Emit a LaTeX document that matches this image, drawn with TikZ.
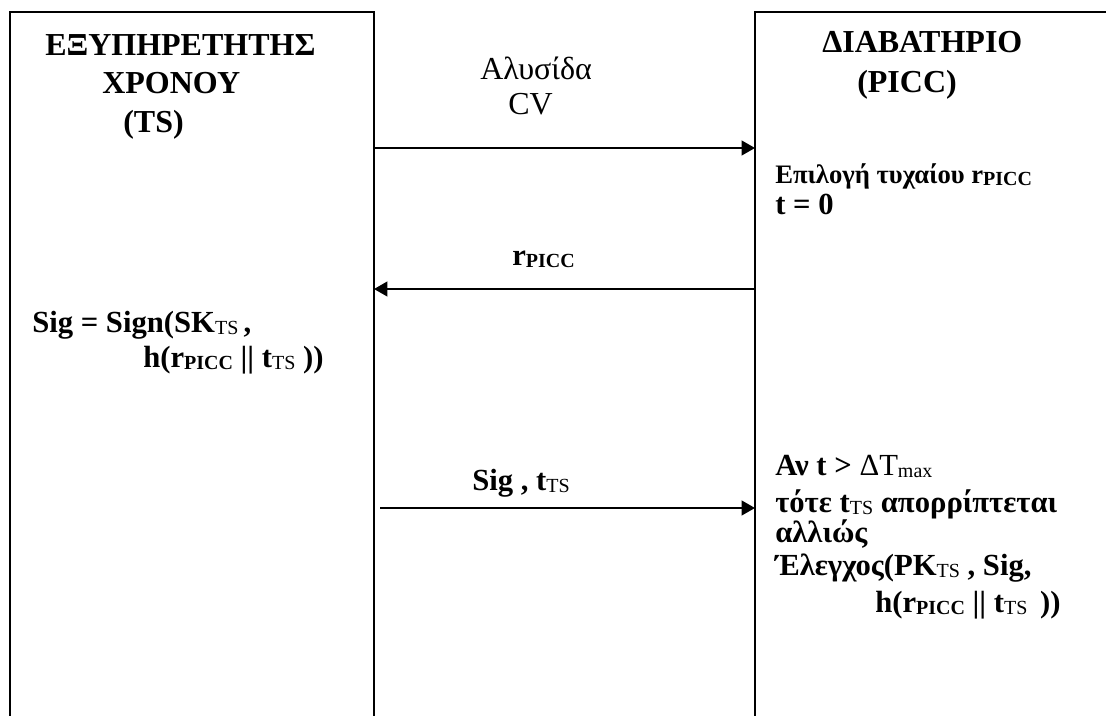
\documentclass[tikz,border=0pt]{standalone}
\usepackage{fontspec}
\setmainfont{Liberation Serif}
\usetikzlibrary{arrows.meta}
% lowered, smaller index text
\newcommand\idxT{\raisebox{-2pt}{\fontsize{15}{15}\selectfont\mdseries TS}}
\newcommand\idxP{\raisebox{-2pt}{\fontsize{15}{15}\selectfont\bfseries PICC}}
\newcommand\idxM{\raisebox{-2pt}{\fontsize{15}{15}\selectfont\mdseries max}}
\begin{document}
\begin{tikzpicture}[x=0.75pt,y=-0.75pt,
  lifeline/.style={line width=2.2pt,line cap=rect},
  msg/.style={line width=1.5pt,-{Triangle[length=10pt,width=11pt]}},
  txt/.style={anchor=base west,inner sep=0pt,font=\bfseries\fontsize{23}{27}\selectfont},
  head/.style={txt,font=\bfseries\fontsize{24}{28}\selectfont},
  plain/.style={txt,font=\fontsize{24}{28}\selectfont},
  note/.style={txt,font=\bfseries\fontsize{20}{24}\selectfont}]
\useasboundingbox (0,0) rectangle (1106,715);
% participants: time server (left) and passport chip (right)
\draw[lifeline] (10,715) -- (10,12) -- (374,12) -- (374,715);
\draw[lifeline] (755,715) -- (755,12) -- (1106,12);
\node[head] (tsA) at (45,55) {ΕΞΥΠΗΡΕΤΗΤΗΣ};
\node[head] (tsB) at (102,93) {ΧΡΟΝΟΥ};
\node[head] (tsC) at (123,132) {(TS)};
\node[head] (pcA) at (822,52) {ΔΙΑΒΑΤΗΡΙΟ};
\node[head] (pcB) at (857,92) {(PICC)};
% message end points on the lifelines
\coordinate (ts1) at (374,148);
\coordinate (pc1) at (755,148);
\coordinate (ts2) at (374,289);
\coordinate (pc2) at (755,289);
\coordinate (ts3) at (380,508);
\coordinate (pc3) at (755,508);
% messages
\draw[msg] (ts1) -- (pc1);
\node[plain] (m1a) at (480,79) {Αλυσίδα};
\node[plain] (m1b) at (508,114) {CV};
\draw[msg] (pc2) -- (ts2);
\node[txt] (m2) at (512,265) {r\idxP};
\draw[msg] (ts3) -- (pc3);
\node[txt] (m3) at (472,490) {Sig , t\idxT};
% local computations
\node[note] (p1) at (775,183) {Επιλογή τυχαίου r\idxP};
\node[txt] (p2) at (775,214) {t = 0};
\node[txt] (s1) at (32,332) {Sig = Sign(SK\idxT\,,};
\node[txt] (s2) at (143,367) {h(r\idxP{} || t\idxT{} ))};
\node[txt] (v1) at (775,475) {Αν t > {\mdseries ΔT}\idxM};
\node[txt] (v2) at (775,512) {τότε t\idxT{} απορρίπτεται};
\node[txt] (v3) at (775,542) {αλλιώς};
\node[txt] (v4) at (775,575) {Έλεγχος(PK\idxT{} , Sig,};
\node[txt] (v5) at (875,612) {h(r\idxP{} || t\idxT{} \,))};
\end{tikzpicture}
\end{document}
